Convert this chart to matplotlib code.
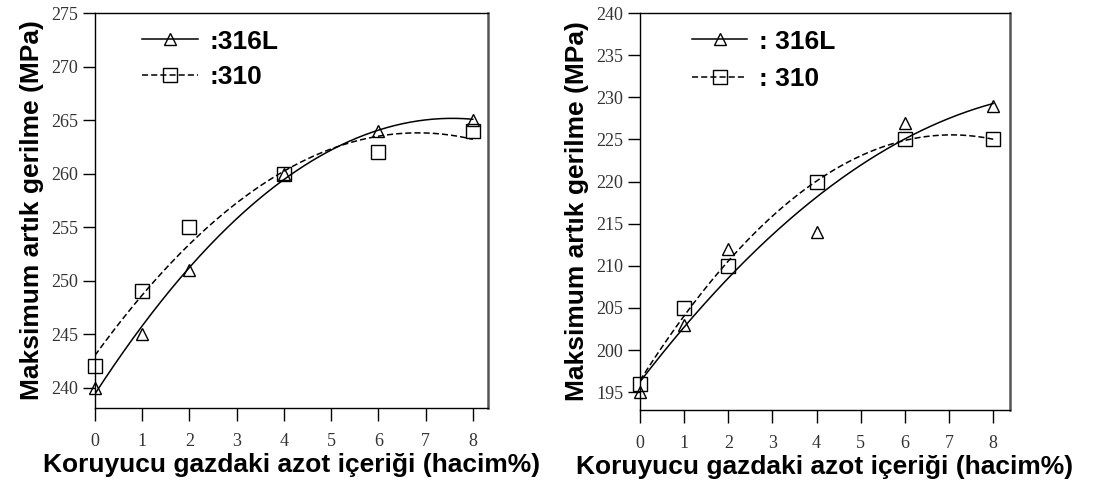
import matplotlib.pyplot as plt
import numpy as np
from matplotlib.lines import Line2D

# azot icerigi (hacim%)
azot = [0, 1, 2, 4, 6, 8]

# sol grafik
sol_316L = [240, 245, 251, 260, 264, 265]
sol_310 = [242, 249, 255, 260, 262, 264]

# sag grafik
sag_316L = [195, 203, 212, 214, 227, 229]
sag_310 = [196, 205, 210, 220, 225, 225]

x_ticks = [0, 1, 2, 3, 4, 5, 6, 7, 8]
sol_y_ticks = [240, 245, 250, 255, 260, 265, 270, 275]
sag_y_ticks = [195, 200, 205, 210, 215, 220, 225, 230, 235, 240]

xlabel = 'Koruyucu gazdaki azot içeriği (hacim%)'
ylabel = 'Maksimum artık gerilme (MPa)'

fig = plt.figure(figsize=(10.99, 4.84), dpi=100)
ax1 = fig.add_axes([0.0864, 0.157, 0.3576, 0.816])
ax2 = fig.add_axes([0.5823, 0.153, 0.3367, 0.820])


def ciz(ax, y1, y2, ylim, xlim, yticks, leg_x, leg_y, etiketler, aralik):
    xs = np.linspace(0, 8, 200)
    # ikinci dereceden egri uydurma
    p1 = np.polyfit(azot, y1, 2)
    p2 = np.polyfit(azot, y2, 2)
    ax.plot(xs, np.polyval(p1, xs), '-', color='black', lw=1.1)
    ax.plot(xs, np.polyval(p2, xs), '--', color='black', lw=1.1, dashes=(4, 2))
    ax.plot(azot, y1, '^', mfc='none', mec='black', ms=9, mew=1.0, clip_on=False)
    ax.plot(azot, y2, 's', mfc='none', mec='black', ms=10, mew=1.0, clip_on=False)

    ax.set_xlim(xlim)
    ax.set_ylim(ylim)
    ax.set_xticks(x_ticks)
    ax.set_yticks(yticks)
    ax.tick_params(axis='both', direction='out', length=9, width=1.0,
                   labelsize=13, labelcolor='#333333')
    ax.tick_params(axis='x', pad=9)
    ax.tick_params(axis='y', pad=3)
    for lab in ax.get_xticklabels() + ax.get_yticklabels():
        lab.set_family('Liberation Serif')
    for s in ax.spines.values():
        s.set_linewidth(1.0)
    ax.spines['right'].set_linewidth(1.8)
    ax.spines['right'].set_color('#555555')

    ax.set_xlabel(xlabel, fontsize=19, fontweight='bold', family='Liberation Sans', labelpad=2)
    ax.set_ylabel(ylabel, fontsize=19, fontweight='bold', family='Liberation Sans', labelpad=5)

    h1 = Line2D([], [], color='black', lw=1.1, marker='^', mfc='none', mec='black', ms=9)
    h2 = Line2D([], [], color='black', lw=1.1, ls='--', dashes=(4, 2), marker='s',
                mfc='none', mec='black', ms=10)
    ax.legend([h1, h2], etiketler, loc='upper left',
              bbox_to_anchor=(leg_x, leg_y), frameon=False, numpoints=1,
              handlelength=2.1, handletextpad=0.45, labelspacing=aralik,
              prop={'family': 'Liberation Sans', 'size': 19, 'weight': 'bold'})


ciz(ax1, sol_316L, sol_310, (238.1, 275), (0, 8.32), sol_y_ticks, 0.06, 1.018,
    [':316L', ':310'], 0.42)
ciz(ax2, sag_316L, sag_310, (192.9, 240), (0, 8.38), sag_y_ticks, 0.076, 1.018,
    [': 316L', ': 310'], 0.5)

fig.savefig('out.png', dpi=100)
